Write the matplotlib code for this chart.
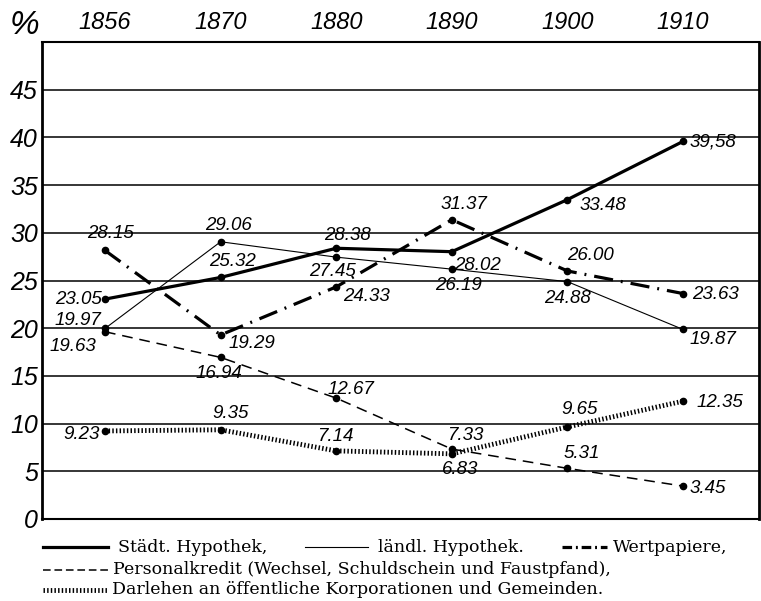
import numpy as np
import matplotlib.pyplot as plt
from matplotlib.lines import Line2D

years = ['1856', '1870', '1880', '1890', '1900', '1910']
staedt = [23.05, 25.32, 28.38, 28.02, 33.48, 39.58]
laendl = [19.97, 29.06, 27.45, 26.19, 24.88, 19.87]
wertpapiere = [28.15, 19.29, 24.33, 31.37, 26.00, 23.63]
personal = [19.63, 16.94, 12.67, 7.33, 5.31, 3.45]
darlehen = [9.23, 9.35, 7.14, 6.83, 9.65, 12.35]

# label offsets in pixels (dx right, dy down)
off_staedt = [(-27, 0), (12, -16), (11, -13), (26, 14), (35, 6), (30, 1)]
off_laendl = [(-27, -8), (8, -16), (-4, 14), (7, 16), (0, 17), (30, 10)]
off_wert = [(5, -17), (31, 9), (30, 10), (12, -15), (23, -15), (32, 1)]
off_pers = [(-32, 15), (-2, 16), (15, -9), (13, -14), (14, -15), (25, 2)]
off_darl = [(-23, 4), (10, -16), (-1, -14), (8, 16), (12, -17), (37, 1)]

hand = ['Liberation Sans', 'DejaVu Sans']
x = np.arange(len(years))

fig = plt.figure(figsize=(7.61, 6.01), dpi=100)
ax = fig.add_axes([42/761, 1 - 519/601, 717/761, 477/601])
ax.set_xlim(-0.545, 5.657)
ax.set_ylim(0, 50)

for v in range(5, 50, 5):
    ax.axhline(v, color='k', lw=1.1, zorder=1)

ms = 4.5
ax.plot(x, staedt, color='k', lw=2.3, marker='o', ms=ms, zorder=3)
ax.plot(x, laendl, color='k', lw=0.8, marker='o', ms=ms, zorder=3)
ax.plot(x, wertpapiere, color='k', lw=2.3, marker='o', ms=ms, zorder=3,
        dashes=(6, 2.5, 0.6, 2.5))
ax.plot(x, personal, color='k', lw=1.1, marker='o', ms=ms, zorder=3,
        dashes=(7, 4.5))
ax.plot(x, darlehen, color='k', lw=3.5, marker='o', ms=ms, zorder=3,
        dashes=(0.3, 0.45), dash_capstyle='butt')

for vals, offs in [(staedt, off_staedt), (laendl, off_laendl), (wertpapiere, off_wert),
                   (personal, off_pers), (darlehen, off_darl)]:
    for xi, v, (dx, dy) in zip(x, vals, offs):
        txt = ('%.2f' % v)
        if v == 39.58:
            txt = '39,58'
        ax.annotate(txt, (xi, v), xytext=(dx, -dy), textcoords='offset pixels',
                    ha='center', va='center', fontsize=13.5, style='italic',
                    family=hand, zorder=4)

ax.xaxis.tick_top()
ax.set_xticks(x)
ax.set_xticklabels(years, fontsize=17, style='italic', family=hand)
ax.set_yticks(range(0, 50, 5))
ax.set_yticklabels([str(v) for v in range(0, 50, 5)], fontsize=18, style='italic', family=hand)
ax.tick_params(length=0, pad=3)
ax.tick_params(axis='x', pad=6)
for s in ax.spines.values():
    s.set_linewidth(1.5)
ax.spines['left'].set_linewidth(2)
ax.spines['right'].set_linewidth(2)

fig.text(24/761, 1 - 26/601, '%', fontsize=24, style='italic', family=hand,
         ha='center', va='center')

# legend drawn by hand below the chart
def sample(x0, x1, y, **kw):
    fig.add_artist(Line2D([x0/761, x1/761], [1 - y/601, 1 - y/601],
                          color='k', **kw))

def label(x0, y, s):
    fig.text(x0/761, 1 - y/601, s, fontsize=12.5, family='DejaVu Serif',
             ha='left', va='center')

sample(43, 108, 547, lw=2.3)
label(118, 547, 'Städt. Hypothek,')
sample(305, 368, 547, lw=0.8)
label(378, 547, 'ländl. Hypothek.')
sample(562, 607, 547, lw=2.3, dashes=(3, 1.2, 0.6, 1.2))
label(613, 547, 'Wertpapiere,')
sample(43, 108, 570, lw=1.1, dashes=(5, 2.5))
label(113, 570, 'Personalkredit (Wechsel, Schuldschein und Faustpfand),')
sample(43, 108, 590, lw=3.5, dashes=(0.3, 0.45), dash_capstyle='butt')
label(112, 590, 'Darlehen an öffentliche Korporationen und Gemeinden.')

fig.savefig('out.png', dpi=100)
